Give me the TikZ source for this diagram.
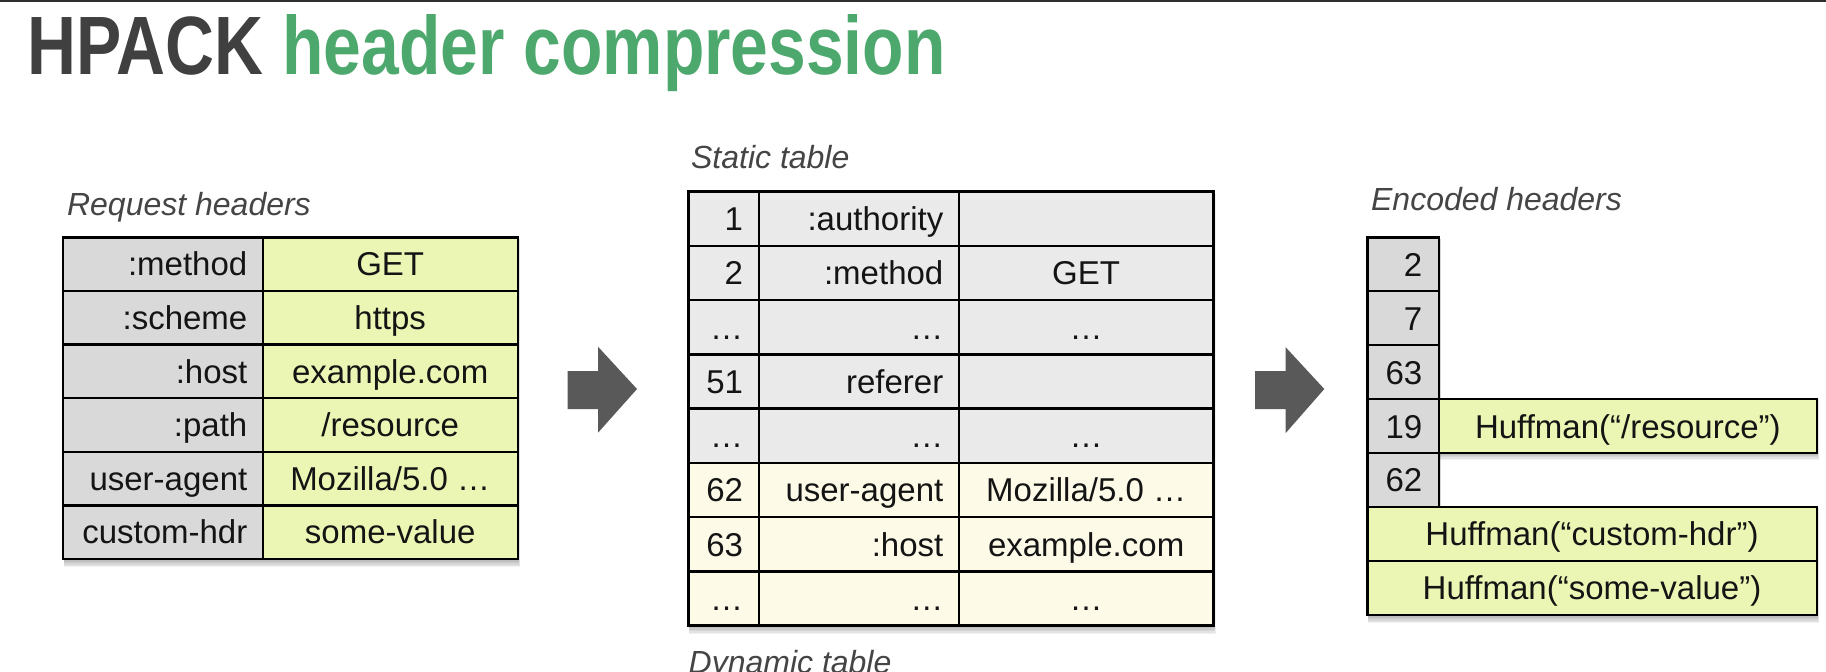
\documentclass[tikz,border=0pt]{standalone}
\usepackage{fontspec}
\setmainfont{Liberation Sans}
\definecolor{titlegray}{HTML}{404040}
\definecolor{titlegreen}{HTML}{4CA86C}
\definecolor{keygray}{HTML}{D9D9D9}
\definecolor{valgreen}{HTML}{EBF6B4}
\definecolor{statgray}{HTML}{EAEAEA}
\definecolor{dyncream}{HTML}{FDFBE7}
\definecolor{arrowgray}{HTML}{595959}
\definecolor{labelgray}{HTML}{454545}
\definecolor{topline}{HTML}{2E2E2E}
\tikzset{
  cellbase/.style={draw=black, line width=1.2pt, outer sep=0pt, inner ysep=0pt,
    text height=11.8pt, text depth=0pt, text=black!92,
    font=\fontsize{16.5pt}{19pt}\selectfont},
  rqkey/.style={cellbase, fill=keygray, minimum height=26.8pt, inner xsep=7.7pt, text width=84.6pt, align=right},
  rqval/.style={cellbase, fill=valgreen, minimum height=26.8pt, inner xsep=0pt, minimum width=127.5pt},
  stnum/.style={cellbase, fill=#1, minimum height=27.12pt, inner xsep=8pt, text width=19.35pt, align=right},
  stkey/.style={cellbase, fill=#1, minimum height=27.12pt, inner xsep=7.85pt, text width=84.3pt, align=right},
  stval/.style={cellbase, fill=#1, minimum height=27.12pt, inner xsep=0pt, minimum width=127.15pt},
  ennum/.style={cellbase, fill=keygray, minimum height=26.98pt, inner xsep=8.35pt, text width=19.15pt, align=right},
  enres/.style={cellbase, fill=valgreen, minimum height=26.98pt, inner xsep=0pt, minimum width=188.85pt},
  enwide/.style={cellbase, fill=valgreen, minimum height=26.98pt, inner xsep=0pt, minimum width=224.7pt},
  lbl/.style={anchor=base west, inner sep=0pt, text=labelgray, font=\itshape\fontsize{16pt}{18pt}\selectfont},
  bigarrow/.style={fill=arrowgray, draw=none}
}
\newcommand{\softshadow}[4]{%
  \foreach \i in {1,...,6}{\fill[black, opacity=0.055] (#1+1,#2+2) rectangle (#3+0.4*\i,#4+1.4*\i);}}
\begin{document}
\begin{tikzpicture}[x=0.5pt,y=-0.5pt]
\useasboundingbox (0,0) rectangle (1826,671);
\fill[white] (0,0) rectangle (1826,671);
\fill[topline] (0,0) rectangle (1826,2.4);

% title
\node[anchor=base west, inner sep=0pt, text=titlegray] (title) at (27.3,74)
  {\resizebox{458.9pt}{30pt}{\bfseries HPACK \textcolor{titlegreen}{header compression}}};

% labels
\node[lbl] (lreq) at (66.7,215) {Request headers};
\node[lbl] (lstat) at (690.7,168.3) {Static table};
\node[lbl] (ldyn) at (688.3,673.4) {Dynamic table};
\node[lbl] (lenc) at (1370.7,210) {Encoded headers};

% shadows
\softshadow{62.7}{237.3}{517.7}{559}
\softshadow{688.3}{191.7}{1213.3}{625.6}
\softshadow{1367.3}{237.3}{1439}{505.7}
\softshadow{1439}{397.3}{1816.7}{451.7}
\softshadow{1367.3}{505.7}{1816.7}{615}

% request headers
\node[rqkey] (rk1) at (162.7,264.1) {:method};
\node[rqval] (rv1) at (390.2,264.1) {GET};
\node[rqkey] (rk2) at (162.7,317.7) {:scheme};
\node[rqval] (rv2) at (390.2,317.7) {https};
\node[rqkey] (rk3) at (162.7,371.3) {:host};
\node[rqval] (rv3) at (390.2,371.3) {example.com};
\node[rqkey] (rk4) at (162.7,424.9) {:path};
\node[rqval] (rv4) at (390.2,424.9) {/resource};
\node[rqkey] (rk5) at (162.7,478.5) {user-agent};
\node[rqval] (rv5) at (390.2,478.5) {Mozilla/5.0 …};
\node[rqkey] (rk6) at (162.7,532.1) {custom-hdr};
\node[rqval] (rv6) at (390.2,532.1) {some-value};

% static + dynamic table
\node[stnum=statgray] (sn1) at (723.65,218.8) {1};
\node[stkey=statgray] (sk1) at (859,218.8) {:authority};
\node[stval=statgray] (sv1) at (1086.15,218.8) {};
\node[stnum=statgray] (sn2) at (723.65,273.1) {2};
\node[stkey=statgray] (sk2) at (859,273.1) {:method};
\node[stval=statgray] (sv2) at (1086.15,273.1) {GET};
\node[stnum=statgray] (sn3) at (723.65,327.3) {…};
\node[stkey=statgray] (sk3) at (859,327.3) {…};
\node[stval=statgray] (sv3) at (1086.15,327.3) {…};
\node[stnum=statgray] (sn4) at (723.65,381.5) {51};
\node[stkey=statgray] (sk4) at (859,381.5) {referer};
\node[stval=statgray] (sv4) at (1086.15,381.5) {};
\node[stnum=statgray] (sn5) at (723.65,435.8) {…};
\node[stkey=statgray] (sk5) at (859,435.8) {…};
\node[stval=statgray] (sv5) at (1086.15,435.8) {…};
\node[stnum=dyncream] (sn6) at (723.65,490.0) {62};
\node[stkey=dyncream] (sk6) at (859,490.0) {user-agent};
\node[stval=dyncream] (sv6) at (1086.15,490.0) {Mozilla/5.0 …};
\node[stnum=dyncream] (sn7) at (723.65,544.2) {63};
\node[stkey=dyncream] (sk7) at (859,544.2) {:host};
\node[stval=dyncream] (sv7) at (1086.15,544.2) {example.com};
\node[stnum=dyncream] (sn8) at (723.65,598.5) {…};
\node[stkey=dyncream] (sk8) at (859,598.5) {…};
\node[stval=dyncream] (sv8) at (1086.15,598.5) {…};

% encoded headers
\node[ennum] (en1) at (1403.15,264.3) {2};
\node[ennum] (en2) at (1403.15,318.2) {7};
\node[ennum] (en3) at (1403.15,372.2) {63};
\node[ennum] (en4) at (1403.15,426.2) {19};
\node[enres] (eh4) at (1627.85,426.2) {Huffman(“/resource”)};
\node[ennum] (en5) at (1403.15,480.1) {62};
\node[enwide] (eh6) at (1592,534.1) {Huffman(“custom-hdr”)};
\node[enwide] (eh7) at (1592,588.0) {Huffman(“some-value”)};

% arrows
\fill[bigarrow] (567.7,371) -- (598,371) -- (598,346.7) -- (637,389) -- (598,432.7) -- (598,409) -- (567.7,409) -- cycle;
\fill[bigarrow] (1255,371) -- (1285.7,371) -- (1285.7,347.3) -- (1324.3,389) -- (1285.7,433) -- (1285.7,409) -- (1255,409) -- cycle;
\end{tikzpicture}
\end{document}
